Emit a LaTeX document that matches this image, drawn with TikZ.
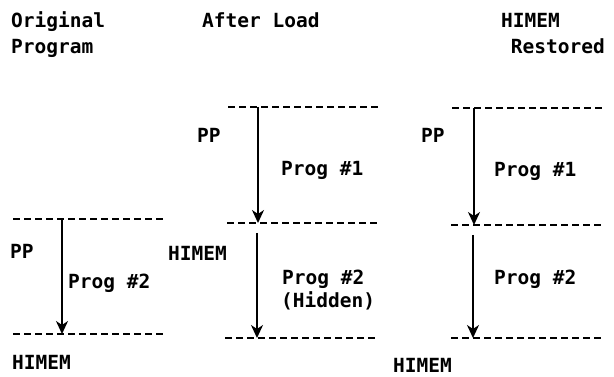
\documentclass[tikz,border=0pt]{standalone}
\usepackage{fontspec}
\setmonofont{DejaVu Sans Mono}
\usetikzlibrary{arrows.meta}
\begin{document}
\begin{tikzpicture}[x=1pt,y=-1pt,
  lbl/.style={font=\ttfamily\bfseries\fontsize{19.5}{21}\selectfont, inner sep=0pt, anchor=base west},
  lblr/.style={font=\ttfamily\bfseries\fontsize{19.5}{21}\selectfont, inner sep=0pt, anchor=base east},
  dline/.style={line width=2.2pt, dash pattern=on 7pt off 4pt},
  arr/.style={line width=2pt, -{Stealth[length=13pt,width=12pt,inset=4pt]}}]
\useasboundingbox (0,0) rectangle (614,377);
% headers
\node[lbl] (h1a) at (11,28) {Original};
\node[lbl] (h1b) at (11,54) {Program};
\node[lbl] (h2) at (202,28) {After Load};
\node[lblr] (h3a) at (560,28) {HIMEM};
\node[lblr] (h3b) at (605,54) {Restored};
% column 1
\coordinate (c1a) at (13,219); \coordinate (c1b) at (165,219);
\coordinate (c1c) at (13,334); \coordinate (c1d) at (165,334);
\draw[dline] (c1a) -- (c1b);
\draw[dline] (c1c) -- (c1d);
\coordinate (a1s) at (62,219); \coordinate (a1e) at (62,334);
\draw[arr] (a1s) -- (a1e);
\node[lbl] (pp1) at (10,259) {PP};
\node[lbl] (p12) at (68,289) {Prog \#2};
\node[lbl] (hm1) at (12,369) {HIMEM};
% column 2
\coordinate (c2a) at (228,107); \coordinate (c2b) at (378,107);
\coordinate (c2c) at (227,223); \coordinate (c2d) at (378,223);
\coordinate (c2e) at (225,338); \coordinate (c2f) at (375,338);
\draw[dline] (c2a) -- (c2b);
\draw[dline] (c2c) -- (c2d);
\draw[dline] (c2e) -- (c2f);
\coordinate (a2s) at (258,107); \coordinate (a2e) at (258,223);
\coordinate (a3s) at (257,233); \coordinate (a3e) at (257,338);
\draw[arr] (a2s) -- (a2e);
\draw[arr] (a3s) -- (a3e);
\node[lbl] (pp2) at (197,143) {PP};
\node[lbl] (p21) at (281,176) {Prog \#1};
\node[lbl] (hm2) at (168,261) {HIMEM};
\node[lbl] (p22) at (282,285) {Prog \#2};
\node[lbl] (hid) at (281,308) {(Hidden)};
% column 3
\coordinate (c3a) at (452,108); \coordinate (c3b) at (604,108);
\coordinate (c3c) at (451,225); \coordinate (c3d) at (604,225);
\coordinate (c3e) at (451,338); \coordinate (c3f) at (604,338);
\draw[dline] (c3a) -- (c3b);
\draw[dline] (c3c) -- (c3d);
\draw[dline] (c3e) -- (c3f);
\coordinate (a4s) at (474,108); \coordinate (a4e) at (474,225);
\coordinate (a5s) at (473,235); \coordinate (a5e) at (473,338);
\draw[arr] (a4s) -- (a4e);
\draw[arr] (a5s) -- (a5e);
\node[lbl] (pp3) at (421,143) {PP};
\node[lbl] (p31) at (494,177) {Prog \#1};
\node[lbl] (p32) at (494,285) {Prog \#2};
\node[lbl] (hm3) at (393,372) {HIMEM};
\end{tikzpicture}
\end{document}
